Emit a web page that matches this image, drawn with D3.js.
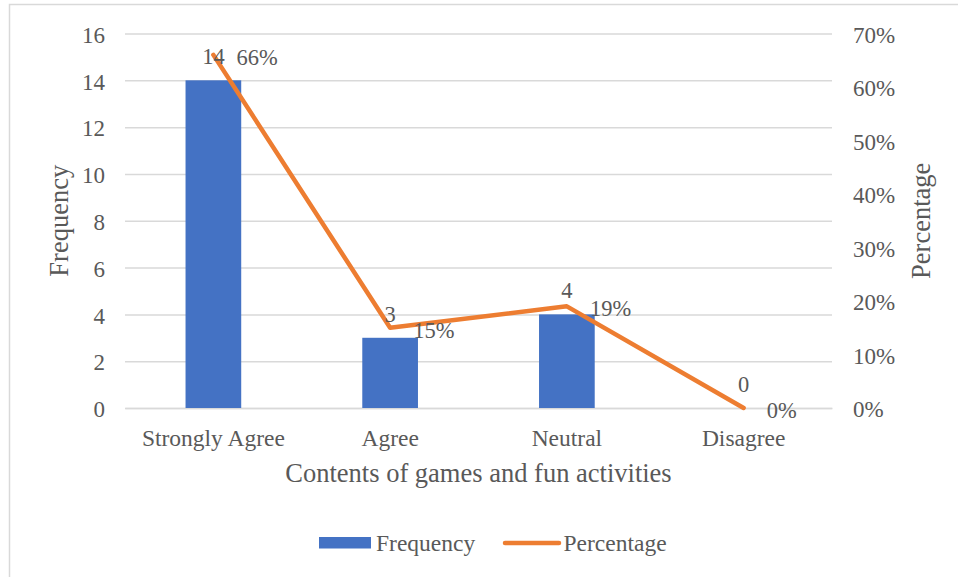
<!DOCTYPE html>
<html>
<head>
<meta charset="utf-8">
<script src="https://cdn.jsdelivr.net/npm/d3@7"></script>
<style>
  html, body { margin: 0; padding: 0; background: #fff; }
  svg { display: block; }
</style>
</head>
<body>
<svg id="chart" width="958" height="577"></svg>
<script>
// Survey responses: contents of games and fun activities
const categories = ["Strongly Agree", "Agree", "Neutral", "Disagree"];
const frequency = [14, 3, 4, 0];
const percentage = [0.66, 0.15, 0.19, 0.00];
const freqTicks = [0, 2, 4, 6, 8, 10, 12, 14, 16];
const pctTicks = [0, 0.1, 0.2, 0.3, 0.4, 0.5, 0.6, 0.7];

const BLUE = "#4472C4", ORANGE = "#ED7D31", GRID = "#D9D9D9", INK = "#595959";
const FONT = "'Liberation Serif', 'Times New Roman', serif";
const TICK_FS = 23, CAT_FS = 23.5, LABEL_FS = 22.5, TITLE_FS = 26.5;

const svg = d3.select("#chart")
  .attr("font-family", FONT).attr("fill", INK);
const margin = { left: 125, right: 126, top: 33.5, bottom: 169 };
const W = 958, H = 577;
const x0 = margin.left, x1 = W - margin.right;
const y0 = H - margin.bottom, y1 = margin.top;

// chart frame
svg.append("rect").attr("x", 9.5).attr("y", 4.5).attr("width", 960).attr("height", 600)
  .attr("fill", "#fff").attr("stroke", GRID).attr("stroke-width", 1.5);

const x = d3.scaleBand().domain(categories).range([x0, x1]).paddingInner(0).paddingOuter(0);
const y = d3.scaleLinear().domain([0, 16]).range([y0, y1]);
const yP = d3.scaleLinear().domain([0, 0.7]).range([y0, y1]);

function styleTicks(g, size) {
  g.attr("font-family", FONT).attr("font-size", size);
  g.selectAll(".tick text").attr("fill", INK).attr("font-family", FONT).attr("font-size", size);
}

// left axis with gridlines
const gL = svg.append("g").attr("transform", `translate(${x0},0)`)
  .call(d3.axisLeft(y).tickValues(freqTicks).tickSize(-(x1 - x0)).tickPadding(20));
gL.select(".domain").remove();
gL.selectAll(".tick line").attr("stroke", GRID).attr("stroke-width", 1.5);
styleTicks(gL, TICK_FS);
gL.selectAll(".tick text").attr("dy", "0.38em");

// right axis (percent)
const gR = svg.append("g").attr("transform", `translate(${x1},0)`)
  .call(d3.axisRight(yP).tickValues(pctTicks).tickFormat(d3.format(".0%")).tickSize(0).tickPadding(21));
gR.select(".domain").remove();
styleTicks(gR, TICK_FS);
gR.selectAll(".tick text").attr("dy", "0.38em");

// bottom category axis
const gB = svg.append("g").attr("transform", `translate(0,${y0})`)
  .call(d3.axisBottom(x).tickSize(0).tickPadding(21));
gB.select(".domain").attr("stroke", GRID).attr("stroke-width", 1.5);
styleTicks(gB, CAT_FS);

// bars
const barW = x.bandwidth() * 0.315;
svg.append("g").selectAll("rect").data(categories).join("rect")
  .attr("x", (d) => x(d) + x.bandwidth() / 2 - barW / 2)
  .attr("width", barW)
  .attr("y", (d, i) => y(frequency[i]))
  .attr("height", (d, i) => y0 - y(frequency[i]))
  .attr("fill", BLUE);

// percentage line
const pts = categories.map((c, i) => [x(c) + x.bandwidth() / 2, yP(percentage[i])]);
svg.append("path").attr("d", d3.line()(pts))
  .attr("fill", "none").attr("stroke", ORANGE).attr("stroke-width", 4.5)
  .attr("stroke-linejoin", "round").attr("stroke-linecap", "round");

// bar value labels
svg.append("g").selectAll("text").data(categories).join("text")
  .attr("x", (d) => x(d) + x.bandwidth() / 2)
  .attr("y", (d, i) => y(frequency[i]) - 16)
  .attr("text-anchor", "middle").attr("font-size", LABEL_FS).attr("fill", INK)
  .text((d, i) => frequency[i]);

// percentage value labels
svg.append("g").selectAll("text").data(categories).join("text")
  .attr("x", (d) => x(d) + x.bandwidth() / 2 + 23)
  .attr("y", (d, i) => yP(percentage[i]) + 10)
  .attr("font-size", LABEL_FS).attr("fill", INK)
  .text((d, i) => d3.format(".0%")(percentage[i]));

// axis titles
svg.append("text").attr("x", (x0 + x1) / 2).attr("y", 482)
  .attr("text-anchor", "middle").attr("font-size", TITLE_FS).attr("fill", INK)
  .text("Contents of games and fun activities");
svg.append("text").attr("transform", `translate(68,${(y0 + y1) / 2}) rotate(-90)`)
  .attr("text-anchor", "middle").attr("font-size", TITLE_FS).attr("fill", INK).text("Frequency");
svg.append("text").attr("transform", `translate(930,${(y0 + y1) / 2}) rotate(-90)`)
  .attr("text-anchor", "middle").attr("font-size", TITLE_FS).attr("fill", INK).text("Percentage");

// legend
const lg = svg.append("g");
lg.append("rect").attr("x", 319).attr("y", 537).attr("width", 52).attr("height", 11.5).attr("fill", BLUE);
lg.append("text").attr("x", 376).attr("y", 551).attr("font-size", CAT_FS).attr("fill", INK).text("Frequency");
lg.append("line").attr("x1", 505).attr("x2", 559).attr("y1", 543).attr("y2", 543)
  .attr("stroke", ORANGE).attr("stroke-width", 4.5).attr("stroke-linecap", "round");
lg.append("text").attr("x", 563.5).attr("y", 551).attr("font-size", CAT_FS).attr("fill", INK).text("Percentage");
</script>
</body>
</html>
